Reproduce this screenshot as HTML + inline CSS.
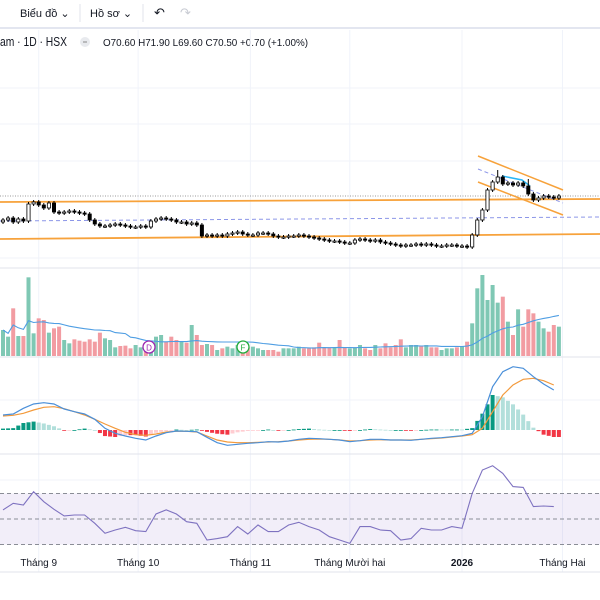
<!DOCTYPE html>
<html><head><meta charset="utf-8">
<style>
html,body{margin:0;padding:0;background:#fff;width:600px;height:600px;overflow:hidden;font-family:"Liberation Sans","Noto Sans CJK SC",sans-serif;}
svg{position:absolute;left:0;top:0;}
</style></head>
<body>
<svg id="chart" width="600" height="600" viewBox="0 0 600 600">
  <g>
    <text x="20" y="17" font-size="11" fill="#131722">Biểu đồ ⌄</text>
    <line x1="80" y1="4" x2="80" y2="22" stroke="#e0e3eb"/>
    <text x="90" y="17" font-size="11" fill="#131722">Hồ sơ ⌄</text>
    <line x1="143" y1="4" x2="143" y2="22" stroke="#e0e3eb"/>
    <text x="154" y="17" font-size="13" fill="#131722">↶</text>
    <text x="180" y="17" font-size="13" fill="#c8cbd3">↷</text>
    <rect x="0" y="27" width="600" height="2" fill="#e3e6f0"/>
  </g>
  <g>
    <text x="0" y="46" font-size="12.5" fill="#131722" textLength="67" lengthAdjust="spacingAndGlyphs">am · 1D · HSX</text>
    <circle cx="85" cy="42" r="5" fill="#e8eaee"/>
    <line x1="83" y1="42" x2="87" y2="42" stroke="#888"/>
    <text x="103" y="46" font-size="10.5" fill="#131722" textLength="205" lengthAdjust="spacingAndGlyphs">O70.60  H71.90  L69.60  C70.50  +0.70 (+1.00%)</text>
  </g>
  <g id="grid"></g>
  <g id="drawings">
    <line x1="0" y1="196" x2="600" y2="196" stroke="#999" stroke-dasharray="1,1.5"/>
    <line x1="0" y1="202" x2="600" y2="199" stroke="#f7a23b" stroke-width="1.8"/>
    <line x1="0" y1="221" x2="600" y2="217" stroke="#8c96e8" stroke-dasharray="4,3"/>
    <line x1="0" y1="239" x2="600" y2="234" stroke="#f7a23b" stroke-width="1.8"/>
    <line x1="478" y1="156" x2="563" y2="190" stroke="#f7a23b" stroke-width="1.5"/>
    <line x1="478" y1="169" x2="563" y2="203" stroke="#8c96e8" stroke-dasharray="4,3"/>
    <line x1="478" y1="182" x2="563" y2="215" stroke="#f7a23b" stroke-width="1.5"/>
    <path d="M502 176 L522 180 L530 186" fill="none" stroke="#29b6f6" stroke-width="1.5"/>
  </g>
  <g id="candles"></g>
  <g id="volume"></g>
  <g id="macd"></g>
  <g id="rsi"></g>
  <g>
    <circle cx="149" cy="347" r="6" fill="#fff" stroke="#9c27b0" stroke-width="1.3"/>
    <text x="149" y="350.5" font-size="8" text-anchor="middle" fill="#9c27b0">D</text>
    <circle cx="243" cy="347" r="6" fill="#fff" stroke="#22ab3c" stroke-width="1.3"/>
    <text x="243" y="350.5" font-size="8" text-anchor="middle" fill="#22ab3c">F</text>
  </g>
  <g id="xaxis"></g>
</svg>
<script>
const closes=[68.1,68.3,67.9,68.2,68.0,69.7,69.9,69.6,69.3,69.8,68.9,68.8,68.9,69.0,68.9,68.8,68.7,68.1,67.7,67.5,67.5,67.6,67.7,67.6,67.5,67.4,67.4,67.5,67.4,68.0,68.2,68.3,68.2,68.1,67.9,67.9,67.7,67.8,67.6,66.5,66.6,66.5,66.6,66.5,66.7,66.8,66.9,66.7,66.6,66.6,66.8,66.8,66.7,66.5,66.4,66.4,66.5,66.5,66.6,66.5,66.4,66.3,66.2,66.1,66.0,66.0,65.9,65.8,65.8,66.1,66.2,66.1,66.0,66.1,65.9,65.8,65.7,65.6,65.5,65.6,65.6,65.7,65.6,65.7,65.6,65.5,65.5,65.6,65.6,65.5,65.5,65.4,66.6,68.1,69.1,71.1,71.9,72.4,71.7,71.8,71.6,71.8,71.5,70.7,70.1,70.3,70.5,70.4,70.3,70.5];
const firstOpen=67.9;
const highOverrides={97:73.1,103:72.2,95:71.3};
const volumes=[78,58,143,60,60,236,68,113,108,70,83,88,48,38,50,46,43,50,43,70,53,48,26,30,31,23,33,26,38,38,58,63,43,58,48,43,40,93,63,33,36,33,18,23,28,23,33,38,26,28,23,18,18,18,13,23,23,23,28,23,23,26,40,26,26,26,48,26,23,26,33,23,18,33,23,38,26,33,50,26,33,33,30,33,26,26,18,23,23,26,30,43,98,203,243,168,213,160,178,103,63,140,88,140,128,103,83,73,93,88];
const macdLine=[0.45,0.48,0.65,0.78,0.82,0.78,0.63,0.55,0.48,0.32,0.05,-0.10,-0.18,-0.25,-0.30,-0.18,-0.08,-0.03,-0.04,-0.05,-0.22,-0.38,-0.46,-0.43,-0.40,-0.38,-0.35,-0.36,-0.33,-0.28,-0.25,-0.26,-0.28,-0.30,-0.35,-0.32,-0.28,-0.28,-0.30,-0.30,-0.31,-0.28,-0.25,-0.23,-0.20,-0.17,-0.10,0.40,1.30,1.75,1.90,1.85,1.60,1.38,1.20];
const signalLine=[0.42,0.44,0.50,0.60,0.68,0.70,0.64,0.55,0.45,0.32,0.18,0.05,-0.07,-0.14,-0.16,-0.12,-0.06,-0.04,-0.04,-0.06,-0.18,-0.30,-0.36,-0.38,-0.38,-0.37,-0.36,-0.35,-0.33,-0.30,-0.28,-0.27,-0.28,-0.30,-0.33,-0.32,-0.30,-0.29,-0.30,-0.30,-0.30,-0.28,-0.26,-0.24,-0.21,-0.18,-0.14,0.05,0.55,1.05,1.35,1.52,1.55,1.48,1.35];
const rsiValues=[57.1,62.3,61.0,71.4,63.6,57.6,52.4,53.1,53.1,46.6,38.8,41.4,43.5,40.8,40.1,53.9,57.1,53.9,47.9,46.6,33.5,34.6,36.1,44.0,38.2,45.3,40.1,40.1,45.3,47.4,44.0,41.4,36.1,33.5,30.9,44.0,44.0,41.4,40.8,33.5,34.6,42.7,41.4,41.4,44.0,42.7,70.1,88.4,91.8,85.8,75.4,74.8,59.7,60.2,59.7];
const timeLabels=["Tháng 9","Tháng 10","Tháng 11","Tháng Mười hai","2026","Tháng Hai"];
const timeLabelIdx=[7,26.5,48.5,68,90,109.7];

const NS="http://www.w3.org/2000/svg";
function el(tag,attrs,parent){const e=document.createElementNS(NS,tag);for(const k in attrs)e.setAttribute(k,attrs[k]);parent.appendChild(e);return e;}
const xOf=i=>3+i*5.1;
const yPrice=p=>901-p*10;
const yVol=v=>356-v/3;
const yMacd=v=>430-v*100/3;
const yRsi=r=>519-(r-50)*1.275;

const grid=document.getElementById('grid');
timeLabelIdx.forEach(i=>{const l=el('line',{x1:xOf(i),x2:xOf(i),y1:30,y2:572,stroke:'#f0f3fa'},grid);

});
[88,124,161,258,400,480].forEach(y=>{const l=el('line',{x1:0,x2:600,y1:y,y2:y,stroke:'#f0f3fa'},grid);

});
[268,357,454,572].forEach(y=>{const l=el('line',{x1:0,x2:600,y1:y,y2:y,stroke:'#e0e3eb'},grid);

});

const cg=document.getElementById('candles');
closes.forEach((c,i)=>{
  const o=i===0?firstOpen:closes[i-1];
  const hi=highOverrides[i]!==undefined?highOverrides[i]:Math.max(o,c)+0.2;
  const lo=Math.min(o,c)-0.2;
  const x=xOf(i);
  const w=el('line',{x1:x,x2:x,y1:yPrice(hi),y2:yPrice(lo),stroke:'#000','stroke-width':1},cg);
  
  
  const top=yPrice(Math.max(o,c)),bot=yPrice(Math.min(o,c));
  const up=c>=o;
  const b=el('rect',{x:x-1.6,y:top,width:3.2,height:Math.max(1.2,bot-top),fill:up?'#fff':'#000',stroke:'#000','stroke-width':0.8},cg);
  
  
});

const vg=document.getElementById('volume');
volumes.forEach((v,i)=>{
  const o=i===0?firstOpen:closes[i-1];
  const up=closes[i]>=o;
  const r=el('rect',{x:xOf(i)-2,y:yVol(v),width:4,height:v/3,fill:up?'#7fc8b4':'#f29ca2'},vg);
  
  
});
let pts=[];
volumes.forEach((v,i)=>{const s=volumes.slice(Math.max(0,i-19),i+1);const m=s.reduce((a,b)=>a+b,0)/s.length;pts.push(xOf(i).toFixed(1)+','+yVol(m).toFixed(1));});
const vma=el('polyline',{points:pts.join(' '),fill:'none',stroke:'#4f9ee3','stroke-width':1.1},vg);



const mg=document.getElementById('macd');
const interp=(arr,t)=>{const k=Math.min(arr.length-1,Math.floor(t));const f=t-k;return k+1<arr.length?arr[k]*(1-f)+arr[k+1]*f:arr[k];};
let prevH=0;
closes.forEach((_,i)=>{
  const t=i/2;const h=(interp(macdLine,t)-interp(signalLine,t))*1.4;
  const col=h>=0?(h>=prevH?'#089981':'#b2dfdb'):(h<=prevH?'#f23645':'#ffcdd2');
  prevH=h;
  const y0=yMacd(0),y1=yMacd(h);
  const r=el('rect',{x:xOf(i)-2,y:Math.min(y0,y1),width:4,height:Math.max(0.8,Math.abs(y1-y0)),fill:col},mg);
  
  
});
const sl=el('polyline',{points:signalLine.map((v,k)=>xOf(k*2).toFixed(1)+','+yMacd(v).toFixed(1)).join(' '),fill:'none',stroke:'#f39a3c','stroke-width':1.2},mg);


const ml=el('polyline',{points:macdLine.map((v,k)=>xOf(k*2).toFixed(1)+','+yMacd(v).toFixed(1)).join(' '),fill:'none',stroke:'#4a8fd9','stroke-width':1.2},mg);



const rg=document.getElementById('rsi');
const band=el('rect',{x:0,y:yRsi(70),width:600,height:yRsi(30)-yRsi(70),fill:'#7e57c2','fill-opacity':0.1},rg);


[70,50,30].forEach(v=>{const l=el('line',{x1:0,x2:600,y1:yRsi(v),y2:yRsi(v),stroke:'#8a8d96','stroke-dasharray':'4,3','stroke-width':0.9},rg);

});
const rl=el('polyline',{points:rsiValues.map((v,k)=>xOf(k*2).toFixed(1)+','+yRsi(v).toFixed(1)).join(' '),fill:'none',stroke:'#7e72c0','stroke-width':1.1},rg);



const xg=document.getElementById('xaxis');
timeLabels.forEach((t,j)=>{const tx=el('text',{x:xOf(timeLabelIdx[j]),y:566,'font-size':10,'text-anchor':'middle',fill:'#131722','font-weight':t==='2026'?'bold':'normal'},xg);tx.textContent=t;

});
</script>
</body></html>
